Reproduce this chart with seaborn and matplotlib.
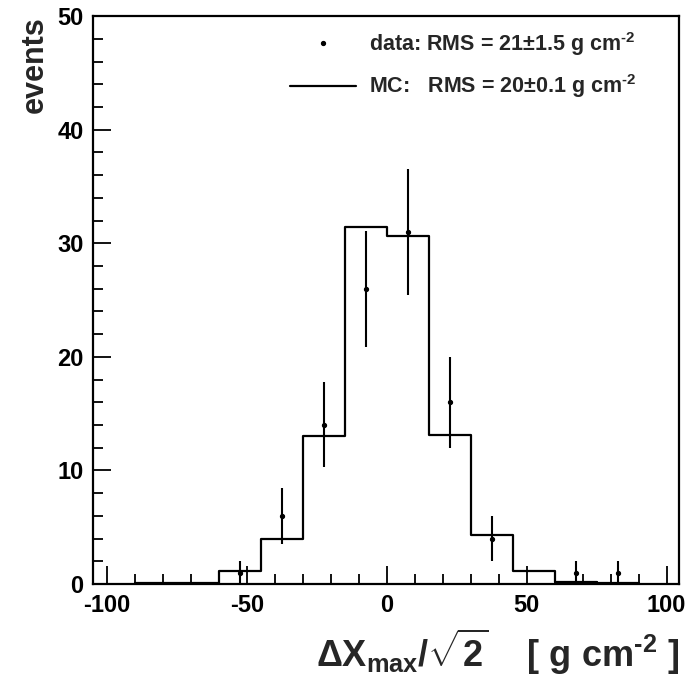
import numpy as np
import pandas as pd
import matplotlib
matplotlib.use("Agg")
import matplotlib.pyplot as plt
from matplotlib.ticker import MultipleLocator
import seaborn as sns

# ---- data ----
bin_edges = [-90, -75, -60, -45, -30, -15, 0, 15, 30, 45, 60, 75, 90]
mc_counts = [0.05, 0.05, 1.1, 4.0, 13.0, 31.4, 30.6, 13.1, 4.3, 1.1, 0.2, 0.06]
data_x = [-52.5, -37.5, -22.5, -7.5, 7.5, 22.5, 37.5, 67.5, 82.5]
data_counts = [1, 6, 14, 26, 31, 16, 4, 1, 1]
data_label = r"data: RMS = 21$\pm$1.5 g cm$^{\text{-2}}$"
mc_label = r"MC:   RMS = 20$\pm$0.1 g cm$^{\text{-2}}$"

FONT = "Liberation Sans"
sns.set_style("white")
plt.rcParams["font.family"] = [FONT, "DejaVu Sans"]
plt.rcParams["font.weight"] = "bold"
plt.rcParams["axes.unicode_minus"] = False
plt.rcParams["mathtext.fontset"] = "custom"
for k in ("rm", "it", "bf", "sf"):
    plt.rcParams["mathtext." + k] = FONT + ":bold"

fig = plt.figure(figsize=(6.91, 6.85), dpi=100)
ax = fig.add_axes([0.135, 0.1475, 0.848, 0.829])

centers = [(a + b) / 2 for a, b in zip(bin_edges[:-1], bin_edges[1:])]
mc_df = pd.DataFrame({"x": centers, "w": mc_counts})
sns.histplot(data=mc_df, x="x", weights="w", bins=list(bin_edges), element="step",
             fill=False, color="black", linewidth=1.6, ax=ax, label=mc_label)

dc = np.array(data_counts, dtype=float)
eb = ax.errorbar(data_x, dc, yerr=np.sqrt(dc), fmt="o", color="black",
                 markersize=2.8, elinewidth=1.5, capsize=0, label=data_label)

ax.set_xlim(-104.8, 104.5)
ax.set_ylim(0, 50)
ax.xaxis.set_major_locator(MultipleLocator(50))
ax.xaxis.set_minor_locator(MultipleLocator(10))
ax.yaxis.set_major_locator(MultipleLocator(10))
ax.yaxis.set_minor_locator(MultipleLocator(2))
ax.tick_params(which="both", direction="in", top=False, right=False,
               left=True, bottom=True, width=1.3, colors="black")
ax.tick_params(which="major", length=13, labelsize=17, pad=7)
ax.tick_params(which="minor", length=7)
for lab in ax.get_xticklabels() + ax.get_yticklabels():
    lab.set_fontweight("bold")
for s in ax.spines.values():
    s.set_color("black")
    s.set_linewidth(1.6)

ax.set_xlabel(r"$\Delta X_{max}/\sqrt{2}$    [ g cm$^{\text{-2}}$ ]", fontsize=26,
              fontweight="bold", loc="right")
ax.xaxis.set_label_coords(1.0, -0.076)
ax.set_ylabel("events", fontsize=22, fontweight="bold", loc="top")
ax.yaxis.set_label_coords(-0.075, 1.0)

h, l = ax.get_legend_handles_labels()
hd = h[l.index(data_label)][0]
hm = h[l.index(mc_label)]
leg = ax.legend([hd, hm], [data_label, mc_label],
                loc="upper left", bbox_to_anchor=(0.336, 0.976),
                frameon=False, fontsize=15.5, handlelength=3.05,
                handletextpad=0.6, labelspacing=0.68, borderpad=0,
                borderaxespad=0)

fig.savefig("out.png", dpi=100)
